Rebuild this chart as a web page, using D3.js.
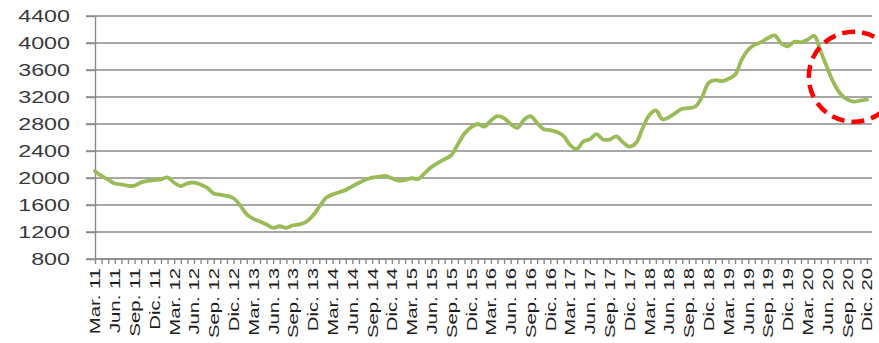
<!DOCTYPE html>
<meta charset="utf-8">
<style>
body {
  margin: 0;
  background: #fff;
  overflow: hidden;
}
.grid line {
  stroke: #8a8a8a;
  stroke-width: 1.4px;
}
.axis path, .axis line {
  stroke: #8a8a8a;
  stroke-width: 1.4px;
}
.y-axis text {
  font-family: "Liberation Sans", Arial, sans-serif;
  font-size: 17px;
  fill: #3a3a3a;
}
.x-axis text {
  font-family: "Liberation Sans", Arial, sans-serif;
  font-size: 14px;
  fill: #1e1e1e;
}
</style>
<svg id="svg" width="879" height="343"></svg>
<script src="https://cdn.jsdelivr.net/npm/d3@7"></script>
<script>

// month names (Spanish abbreviations) and the span covered
var monthNames = ["Ene.", "Feb.", "Mar.", "Abr.", "May.", "Jun.", "Jul.", "Ago.", "Sep.", "Oct.", "Nov.", "Dic."];
var quarterMonths = ["Mar.", "Jun.", "Sep.", "Dic."];
var firstYear = 11, firstMonth = 2;   // Mar. 11
var lastYear = 20, lastMonth = 11;    // Dic. 20

// monthly values, Mar. 11 .. Dic. 20
var values = [
  2100, 2030, 1975, 1918, 1905, 1885, 1885, 1935, 1958, 1968,
  1980, 2010, 1930, 1880, 1920, 1933, 1905, 1855, 1770, 1753,
  1735, 1700, 1595, 1460, 1395, 1355, 1310, 1262, 1285, 1262,
  1300, 1312, 1350, 1440, 1575, 1705, 1755, 1790, 1822, 1878,
  1930, 1975, 2005, 2020, 2032, 1995, 1960, 1970, 1997, 1985,
  2075, 2165, 2225, 2280, 2340, 2500, 2660, 2752, 2800, 2760,
  2852, 2915, 2885, 2800, 2744, 2860, 2915, 2815, 2722, 2708,
  2680, 2625, 2490, 2430, 2540, 2575, 2650, 2570, 2570, 2615,
  2530, 2465, 2520, 2740, 2930, 3000, 2870, 2900, 2965, 3025,
  3036, 3060, 3200, 3410, 3450, 3435, 3470, 3530, 3750, 3900,
  3975, 4015, 4075, 4112, 3995, 3950, 4020, 4010, 4050, 4105,
  3870, 3625, 3400, 3245, 3165, 3132, 3148, 3160
];

var yTicks = [800, 1200, 1600, 2000, 2400, 2800, 3200, 3600, 4000, 4400];

// highlighted zone (red dashed circle)
var highlightMonth = 115, highlightValue = 3500;

var months = [];
for (var yy = firstYear; yy <= lastYear; yy++) {
  for (var m = 0; m < 12; m++) {
    if (yy === firstYear && m < firstMonth) continue;
    if (yy === lastYear && m > lastMonth) continue;
    months.push(monthNames[m] + " " + yy);
  }
}
var data = months.map(function(d, i) { return {month: d, value: values[i]}; });

var svg = d3.select("svg");

var plotLeft = 95, plotRight = 872, plotTop = 16, plotBottom = 259;

var x = d3.scalePoint()
    .domain(months)
    .range([plotLeft, 867]);

var y = d3.scaleLinear()
    .domain([800, 4400])
    .range([plotBottom, plotTop]);

// horizontal grid
svg.append("g")
    .attr("class", "grid")
  .selectAll("line")
  .data(yTicks)
  .enter().append("line")
    .attr("x1", plotLeft - 9)
    .attr("x2", plotRight)
    .attr("y1", function(d) { return y(d); })
    .attr("y2", function(d) { return y(d); });

// y axis
var yAxis = svg.append("g")
    .attr("class", "axis y-axis")
    .attr("transform", "translate(" + plotLeft + ",0)")
    .call(d3.axisLeft(y)
      .tickValues(yTicks)
      .tickFormat(d3.format("d"))
      .tickSize(9)
      .tickPadding(16)
      .tickSizeOuter(0));

yAxis.selectAll("text").each(function() {
  d3.select(this)
    .attr("textLength", this.getComputedTextLength() * 1.37)
    .attr("lengthAdjust", "spacingAndGlyphs");
});

// x axis
var xAxis = svg.append("g")
    .attr("class", "axis x-axis")
    .attr("transform", "translate(0," + plotBottom + ")")
    .call(d3.axisBottom(x)
      .tickSize(5)
      .tickSizeOuter(0)
      .tickFormat(function(d) {
        return quarterMonths.indexOf(d.split(" ")[0]) >= 0 ? d : "";
      }));

xAxis.select(".domain").attr("d", "M" + plotLeft + ",0H" + plotRight);

xAxis.selectAll("text")
    .attr("x", -9)
    .attr("y", 0)
    .attr("dy", "0.35em")
    .attr("transform", "rotate(-90)")
    .style("text-anchor", "end")
    .each(function() {
      if (!this.textContent) return;
      d3.select(this)
        .attr("textLength", this.getComputedTextLength() * 1.45)
        .attr("lengthAdjust", "spacingAndGlyphs");
    });

// series line
var line = d3.line()
    .x(function(d) { return x(d.month); })
    .y(function(d) { return y(d.value); })
    .curve(d3.curveCatmullRom.alpha(0.5));

svg.append("path")
    .datum(data)
    .attr("fill", "none")
    .attr("stroke", "#9bbb59")
    .attr("stroke-width", 3.8)
    .attr("stroke-linejoin", "round")
    .attr("stroke-linecap", "round")
    .attr("d", line);

// red dashed circle
svg.append("circle")
    .attr("cx", x(months[highlightMonth]))
    .attr("cy", y(highlightValue))
    .attr("r", 45)
    .attr("fill", "none")
    .attr("stroke", "#ff0000")
    .attr("stroke-width", 4.5)
    .attr("stroke-dasharray", "13,7");

</script>
